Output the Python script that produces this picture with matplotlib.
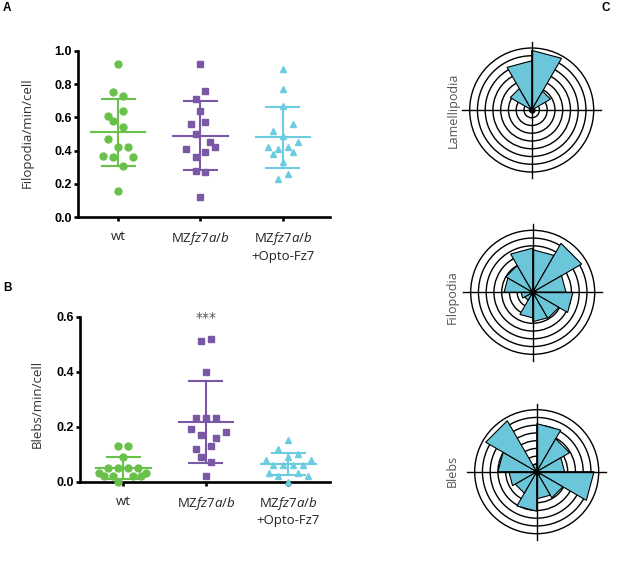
import numpy as np
import matplotlib
matplotlib.use('Agg')
import matplotlib.pyplot as plt
from matplotlib.patches import Polygon, Circle

plt.rcParams['font.family'] = ['Open Sans', 'DejaVu Sans']
plt.rcParams['mathtext.fontset'] = 'custom'
plt.rcParams['mathtext.rm'] = 'Open Sans'
plt.rcParams['mathtext.it'] = 'Open Sans:italic'

# ---------------- data ----------------
categories = ['wt', 'MZ$\\mathit{fz7a/b}$', 'MZ$\\mathit{fz7a/b}$\n+Opto-Fz7']

filo_wt = [0.92, 0.75, 0.73, 0.64, 0.61, 0.58, 0.54, 0.47, 0.42, 0.42, 0.37, 0.36, 0.36, 0.31, 0.16]
filo_mz = [0.92, 0.76, 0.71, 0.64, 0.56, 0.57, 0.50, 0.45, 0.42, 0.41, 0.39, 0.36, 0.28, 0.27, 0.12]
filo_opto = [0.89, 0.77, 0.67, 0.52, 0.56, 0.49, 0.42, 0.41, 0.42, 0.45, 0.38, 0.39, 0.33, 0.23, 0.26]

bleb_wt = [0.13, 0.13, 0.09, 0.05, 0.05, 0.05, 0.05, 0.03, 0.03, 0.02, 0.02, 0.02, 0.02, 0.0]
bleb_mz = [0.51, 0.52, 0.40, 0.23, 0.23, 0.23, 0.19, 0.18, 0.17, 0.16, 0.13, 0.12, 0.09, 0.07, 0.02]
bleb_opto = [0.15, 0.12, 0.10, 0.08, 0.09, 0.06, 0.06, 0.06, 0.08, 0.03, 0.02, 0.03, 0.02, 0.0, 0.06]

# horizontal scatter offsets (beeswarm)
off_filo_wt = [0, -0.06, 0.06, 0.06, -0.12, -0.06, 0.06, -0.12, 0, 0.12, -0.18, -0.06, 0.18, 0.06, 0]
off_filo_mz = [0, 0.06, -0.06, 0, -0.12, 0.06, -0.06, 0.12, 0.18, -0.18, 0.06, -0.06, -0.06, 0.06, 0]
off_filo_opto = [0, 0, 0, -0.12, 0.12, 0, -0.18, -0.06, 0.06, 0.18, -0.12, 0.12, 0, -0.06, 0.06]
off_bleb_wt = [-0.06, 0.06, 0, -0.18, -0.06, 0.06, 0.18, -0.29, 0.28, -0.23, -0.12, 0.12, 0.22, -0.06]
off_bleb_mz = [-0.06, 0.06, 0, -0.12, 0, 0.12, -0.18, 0.24, -0.06, 0.12, 0.06, -0.12, -0.06, 0.06, 0]
off_bleb_opto = [0, -0.12, 0.12, -0.27, 0, -0.18, -0.06, 0.18, 0.28, -0.24, -0.12, 0.12, 0.24, 0, 0.06]

# rose diagrams: 12 bins of 30 deg, clockwise from north (ring units)
rose_labels = ['Lamellipodia', 'Filopodia', 'Blebs']
rose_lamelli = [7.7, 2.8, 0.3, 0.3, 0.3, 0.3, 0.3, 0.3, 0.3, 0.3, 3.2, 6.35]
rose_filo = [5.5, 7.3, 4.3, 5.2, 3.9, 3.8, 3.3, 1.2, 1.5, 3.7, 4.0, 5.7]
rose_blebs = [6.2, 4.9, 3.6, 7.4, 3.9, 3.5, 5.1, 3.2, 3.6, 5.0, 7.6, 1.0]

# ---------------- style ----------------
GREEN = '#69c14b'
PURPLE = '#7b58a6'
CYAN = '#6ccde0'
ROSE = '#6cc6d9'
W, H = 617, 566

fig = plt.figure(figsize=(W / 100, H / 100), dpi=100)


def px_axes(left, top, right, bottom):
    return fig.add_axes([left / W, 1 - bottom / H, (right - left) / W, (bottom - top) / H])


def scatter_panel(ax, datasets, offsets, markers, colors, msizes):
    for i, (d, o, m, c, s) in enumerate(zip(datasets, offsets, markers, colors, msizes)):
        d = np.asarray(d)
        ax.plot(i + np.asarray(o), d, ls='none', marker=m, ms=s, mfc=c, mec=c, zorder=3,
                clip_on=False)
        mean = d.mean()
        sd = d.std(ddof=1)
        ax.plot([i - 0.33, i + 0.33], [mean, mean], color=c, lw=1.5, zorder=2)
        ax.plot([i, i], [mean - sd, mean + sd], color=c, lw=1.5, zorder=2)
        for y in (mean - sd, mean + sd):
            ax.plot([i - 0.2, i + 0.2], [y, y], color=c, lw=1.5, zorder=2)
    for s in ('top', 'right'):
        ax.spines[s].set_visible(False)
    for s in ('left', 'bottom'):
        ax.spines[s].set_linewidth(1.9)
    ax.tick_params(axis='y', direction='out', length=3, width=1.9, pad=1.5,
                   labelsize=9)
    ax.tick_params(axis='x', direction='out', length=3, width=1.9, pad=6.5,
                   labelsize=9.5, labelcolor='#222222')
    ax.set_xticks(range(3))
    ax.set_xticklabels(categories)
    for t in ax.get_xticklabels():
        t.set_linespacing(1.25)


markers = ['o', 's', '^']
colors = [GREEN, PURPLE, CYAN]
msizes = [5.0, 4.6, 5.0]

# Panel A
axA = px_axes(78, 50.7, 330, 217.3)
scatter_panel(axA, [filo_wt, filo_mz, filo_opto],
              [off_filo_wt, off_filo_mz, off_filo_opto], markers, colors, msizes)
axA.set_ylim(0, 1.0)
axA.set_yticks([0.0, 0.2, 0.4, 0.6, 0.8, 1.0])
axA.set_yticklabels(['0.0', '0.2', '0.4', '0.6', '0.8', '1.0'])
for t in axA.get_yticklabels():
    t.set_fontfamily('Liberation Sans')
    t.set_fontweight('bold')
axA.set_xlim(-0.485, 2.57)

# Panel B
axB = px_axes(80, 316.7, 330, 481.7)
scatter_panel(axB, [bleb_wt, bleb_mz, bleb_opto],
              [off_bleb_wt, off_bleb_mz, off_bleb_opto], markers, colors, msizes)
axB.set_ylim(0, 0.6)
axB.set_yticks([0.0, 0.2, 0.4, 0.6])
axB.set_yticklabels(['0.0', '0.2', '0.4', '0.6'])
for t in axB.get_yticklabels():
    t.set_fontfamily('Liberation Sans')
    t.set_fontweight('bold')
axB.set_xlim(-0.525, 2.505)
axB.text(1, 0.595, '***', ha='center', va='center', fontsize=10, color='#555555',
         fontfamily='DejaVu Sans')

# y labels
fig.text(27.5 / W, 1 - 133 / H, 'Filopodia/min/cell', rotation=90, ha='center', va='center',
         fontsize=9.5, color='#333333')
fig.text(37.5 / W, 1 - 404 / H, 'Blebs/min/cell', rotation=90, ha='center', va='center',
         fontsize=9.5, color='#333333')

# panel letters
for lab, x, y in (('A', 3, 8), ('B', 3, 288), ('C', 601, 8)):
    fig.text(x / W, 1 - y / H, lab, ha='left', va='center', fontsize=8.5,
             fontweight='bold', fontfamily='Liberation Sans')

# Rose diagrams
UNIT = 7.75
centers = [(531.7, 110), (532.7, 292.3), (536.7, 471.7)]
label_pos = [(453, 110), (452, 297), (452, 471)]
for rvals, (cx, cy), lab, (lx, ly) in zip([rose_lamelli, rose_filo, rose_blebs], centers,
                                          rose_labels, label_pos):
    half = 10 * UNIT
    ax = px_axes(cx - half, cy - half, cx + half, cy + half)
    ax.set_xlim(-10, 10)
    ax.set_ylim(-10, 10)
    ax.set_aspect('equal')
    ax.axis('off')
    for k in range(1, 9):
        ax.add_patch(Circle((0, 0), k, fill=False, ec='black', lw=1.0, zorder=1))
    for i, r in enumerate(rvals):
        t1 = np.deg2rad(30 * i)
        t2 = np.deg2rad(30 * (i + 1))
        pts = [(0, 0), (r * np.sin(t1), r * np.cos(t1)), (r * np.sin(t2), r * np.cos(t2))]
        ax.add_patch(Polygon(pts, closed=True, fc=ROSE, ec='black', lw=0.8, zorder=2))
    ax.plot([-9, 9], [0, 0], color='black', lw=1.0, zorder=3)
    ax.plot([0, 0], [-8.8, 8.8], color='black', lw=1.0, zorder=3)
    ax.plot([0], [0], marker='o', ms=3.5, color='black', zorder=4)
    fig.text(lx / W, 1 - ly / H, lab, rotation=90, ha='center', va='center', fontsize=9,
             color='#555555')

fig.savefig('out.png', dpi=100)
